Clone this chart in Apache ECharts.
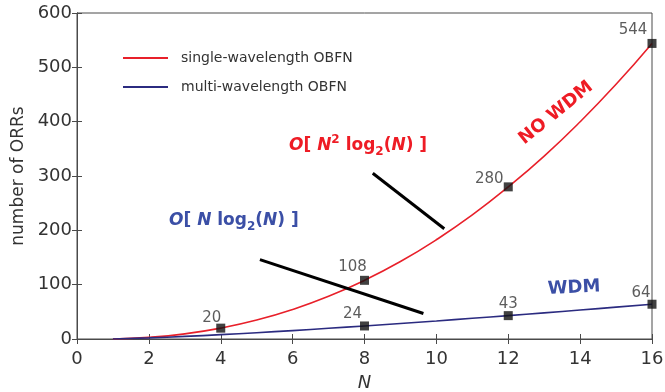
<!DOCTYPE html>
<html><head><meta charset="utf-8">
<script src="https://cdn.jsdelivr.net/npm/echarts@6/dist/echarts.min.js"></script>
<style>html,body{margin:0;padding:0;background:#fff}#c{width:665px;height:392px}</style>
</head><body><div id="c"></div>
<script>
// ---- data ----
const N = [1,2,3,4,5,6,7,8,9,10,11,12,13,14,15,16];
const singleOBFN = [0,3,9.5,20,34.8,54.3,78.6,108,142.6,182.7,228.3,280,336.7,399.8,468.8,544];
const multiOBFN = [0,2,4.75,8,11.6,15.5,19.7,24,28.5,33.2,38.1,43,48.1,53.3,58.6,64];
const redMarkN = [4,8,12,16];
const redMarkV = [20,108,280,544];
const blueMarkN = [8,12,16];
const blueMarkV = [24,43,64];
const pointerUpper = [[8.23,305],[10.22,203]];
const pointerLower = [[5.09,146],[9.64,47]];
const xTicks = [0,2,4,6,8,10,12,14,16];
const yTicks = [0,100,200,300,400,500,600];

const FONT = 'DejaVu Sans, Verdana, sans-serif';
const redLabelOffsets = [[-9,-10],[-12,-13],[-19,-8],[-19,-13]];
const blueLabelOffsets = [[-12,-12],[0,-12],[-11,-11]];

const chart = echarts.init(document.getElementById('c'));
const axisGray = '#4a4a4a';
const txt = '#333';
function pairs(xs, ys){ return xs.map((x,i)=>[x, ys[i]]); }
function markItems(xs, ys, offs){
  return xs.map((x,i)=>({value:[x, ys[i]], label:{offset: offs[i]}}));
}
const option = {
  animation:false,
  grid: {show:true, borderColor:axisGray, borderWidth:1, left:77, right:13, top:13, bottom:53,
         containLabel:false, outerBoundsMode:'none'},
  legend: {
    orient:'vertical', left:118, top:46, itemWidth:45, itemHeight:2, itemGap:15, icon:'rect',
    textStyle:{fontFamily:FONT, fontSize:14, color:txt, padding:[0,0,0,8]},
    data:['single-wavelength OBFN','multi-wavelength OBFN']
  },
  xAxis: [{
    type:'value', min:xTicks[0], max:xTicks[xTicks.length-1], interval:2,
    name:'N', nameLocation:'middle', nameGap:35,
    nameTextStyle:{fontFamily:FONT, fontSize:18, fontStyle:'italic', color:txt},
    axisLine:{show:true, lineStyle:{color:axisGray}},
    axisTick:{show:true, inside:true, length:5, lineStyle:{color:axisGray}},
    axisLabel:{fontFamily:FONT, fontSize:18, color:txt, margin:11},
    splitLine:{show:false}
  },{
    type:'value', position:'top', min:0, max:16, interval:2,
    axisLine:{show:true, lineStyle:{color:axisGray}},
    axisTick:{show:true, inside:true, length:5, lineStyle:{color:axisGray}},
    axisLabel:{show:false}, splitLine:{show:false}
  }],
  yAxis: [{
    type:'value', min:yTicks[0], max:yTicks[yTicks.length-1], interval:100,
    name:'number of ORRs', nameLocation:'middle', nameGap:50,
    nameTextStyle:{fontFamily:FONT, fontSize:17, color:txt},
    axisLine:{show:true, lineStyle:{color:axisGray}},
    axisTick:{show:true, inside:true, length:5, lineStyle:{color:axisGray}},
    axisLabel:{fontFamily:FONT, fontSize:18, color:txt, margin:5},
    splitLine:{show:false}
  },{
    type:'value', position:'right', min:0, max:600, interval:100,
    axisLine:{show:true, lineStyle:{color:axisGray}},
    axisTick:{show:true, inside:true, length:5, lineStyle:{color:axisGray}},
    axisLabel:{show:false}, splitLine:{show:false}
  }],
  series: [
    {
      name:'single-wavelength OBFN', type:'line', smooth:true, symbol:'none',
      data: pairs(N, singleOBFN), color:'#e8202a', lineStyle:{width:1.6, color:'#e8202a'}, z:3
    },
    {
      name:'multi-wavelength OBFN', type:'line', smooth:true, symbol:'none',
      data: pairs(N, multiOBFN), color:'#2b2b80', lineStyle:{width:1.6, color:'#2b2b80'}, z:3
    },
    {
      name:'pointers', type:'line', data:[], symbol:'none',
      markLine:{silent:true, symbol:['none','none'], label:{show:false},
        lineStyle:{color:'#000', width:3, type:'solid'},
        data:[
          [{coord:pointerUpper[0]},{coord:pointerUpper[1]}],
          [{coord:pointerLower[0]},{coord:pointerLower[1]}]
        ]}
    },
    {
      name:'redMarks', type:'scatter', symbol:'rect', symbolSize:9, z:5,
      itemStyle:{color:'#111'},
      label:{show:true, position:'inside', formatter:p=>p.value[1], fontFamily:FONT, fontSize:15, color:txt},
      data: markItems(redMarkN, redMarkV, redLabelOffsets)
    },
    {
      name:'blueMarks', type:'scatter', symbol:'rect', symbolSize:9, z:5,
      itemStyle:{color:'#111'},
      label:{show:true, position:'inside', formatter:p=>p.value[1], fontFamily:FONT, fontSize:15, color:txt},
      data: markItems(blueMarkN, blueMarkV, blueLabelOffsets)
    }
  ],
  graphic: [
    {
      type:'text', left:289, top:134,
      style:{
        text:'{i|O}{n|[ }{i|N}{sup|2}{n| log}{sub|2}{n|(}{i|N}{n|) ]}',
        rich:{
          n:{fontFamily:FONT, fontSize:17, fontWeight:'bold', fill:'#ee1c25', lineHeight:24, verticalAlign:'middle'},
          i:{fontFamily:FONT, fontSize:17, fontWeight:'bold', fontStyle:'italic', fill:'#ee1c25', lineHeight:24, verticalAlign:'middle'},
          sup:{fontFamily:FONT, fontSize:12, fontWeight:'bold', fill:'#ee1c25', lineHeight:24, verticalAlign:'top', padding:[0,0,8,0]},
          sub:{fontFamily:FONT, fontSize:12, fontWeight:'bold', fill:'#ee1c25', lineHeight:24, verticalAlign:'bottom', padding:[8,0,0,0]}
        }
      }
    },
    {
      type:'text', left:169, top:212,
      style:{
        text:'{i|O}{n|[ }{i|N}{n| log}{sub|2}{n|(}{i|N}{n|) ]}',
        rich:{
          n:{fontFamily:FONT, fontSize:17, fontWeight:'bold', fill:'#3b4fa6', lineHeight:24, verticalAlign:'middle'},
          i:{fontFamily:FONT, fontSize:17, fontWeight:'bold', fontStyle:'italic', fill:'#3b4fa6', lineHeight:24, verticalAlign:'middle'},
          sub:{fontFamily:FONT, fontSize:12, fontWeight:'bold', fill:'#3b4fa6', lineHeight:24, verticalAlign:'bottom', padding:[8,0,0,0]}
        }
      }
    },
    {
      type:'text', x:556, y:113, rotation:0.68,
      style:{text:'NO WDM', fontFamily:FONT, fontSize:18, fontWeight:'bold', fill:'#ee1c25', align:'center', verticalAlign:'middle'}
    },
    {
      type:'text', x:574, y:288, rotation:0.05,
      style:{text:'WDM', fontFamily:FONT, fontSize:18, fontWeight:'bold', fill:'#3b4fa6', align:'center', verticalAlign:'middle'}
    }
  ]
};
chart.setOption(option);
</script></body></html>
